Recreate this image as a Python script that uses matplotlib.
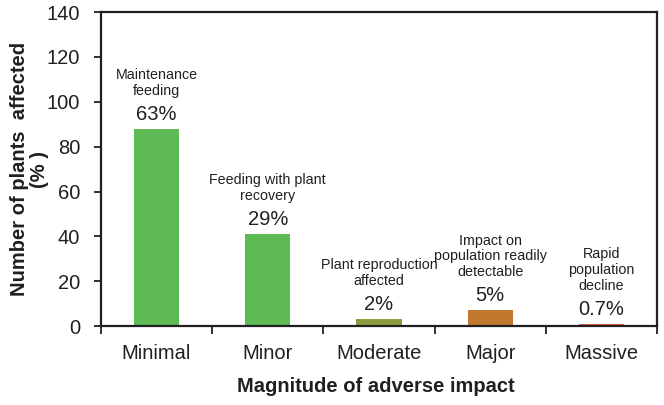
import matplotlib
matplotlib.use("Agg")
import matplotlib.pyplot as plt
import numpy as np

plt.rcParams['font.family'] = ['Liberation Sans', 'DejaVu Sans']

categories = ["Minimal", "Minor", "Moderate", "Major", "Massive"]
values = [88, 41, 3, 7, 1]
percent_labels = ["63%", "29%", "2%", "5%", "0.7%"]
descriptions = ["Maintenance\nfeeding",
                "Feeding with plant\nrecovery",
                "Plant reproduction\naffected",
                "Impact on\npopulation readily\ndetectable",
                "Rapid\npopulation\ndecline"]
colors = ["#5dba55", "#5dba55", "#8c9b3b", "#c0782f", "#df633a"]
yticks = [0, 20, 40, 60, 80, 100, 120, 140]

TXT = "#231f20"

fig = plt.figure(figsize=(6.64, 4.05), dpi=100)
ax = fig.add_axes([0.152, 0.195, 0.8375, 0.775])

x = np.arange(len(categories))
ax.bar(x, values, width=0.405, color=colors, zorder=2)

for xi, v, p, d in zip(x, values, percent_labels, descriptions):
    ax.annotate(p, (xi, v), xytext=(0, 6.5), textcoords="offset points",
                ha="center", va="baseline", fontsize=14.5, color=TXT)
    ax.annotate(d, (xi, v), xytext=(0, 24.5), textcoords="offset points",
                ha="center", va="baseline", fontsize=10.3, color=TXT,
                linespacing=1.17)

ax.set_xlim(-0.5, len(categories) - 0.5)
ax.set_ylim(0, 140)
ax.set_yticks(yticks)
ax.tick_params(axis="y", direction="out", length=5, width=1.3, pad=10,
               labelsize=14.5, colors=TXT)
ax.set_xticks(x)
ax.set_xticklabels(categories)
ax.tick_params(axis="x", which="major", length=0, pad=13, labelsize=14.5,
               colors=TXT)
ax.set_xticks(np.arange(-0.5, len(categories)), minor=True)
ax.tick_params(axis="x", which="minor", direction="out", length=6, width=1.3,
               color=TXT)

for s in ax.spines.values():
    s.set_linewidth(1.6)
    s.set_color(TXT)

ax.set_ylabel("Number of plants  affected\n(% )", fontsize=14.5,
              fontweight="bold", color=TXT, linespacing=1.1)
ax.yaxis.set_label_coords(-0.093, 0.5)
ax.set_xlabel("Magnitude of adverse impact", fontsize=14.5,
              fontweight="bold", color=TXT)
ax.xaxis.set_label_coords(0.495, -0.163)

fig.savefig("out.png", dpi=100)
